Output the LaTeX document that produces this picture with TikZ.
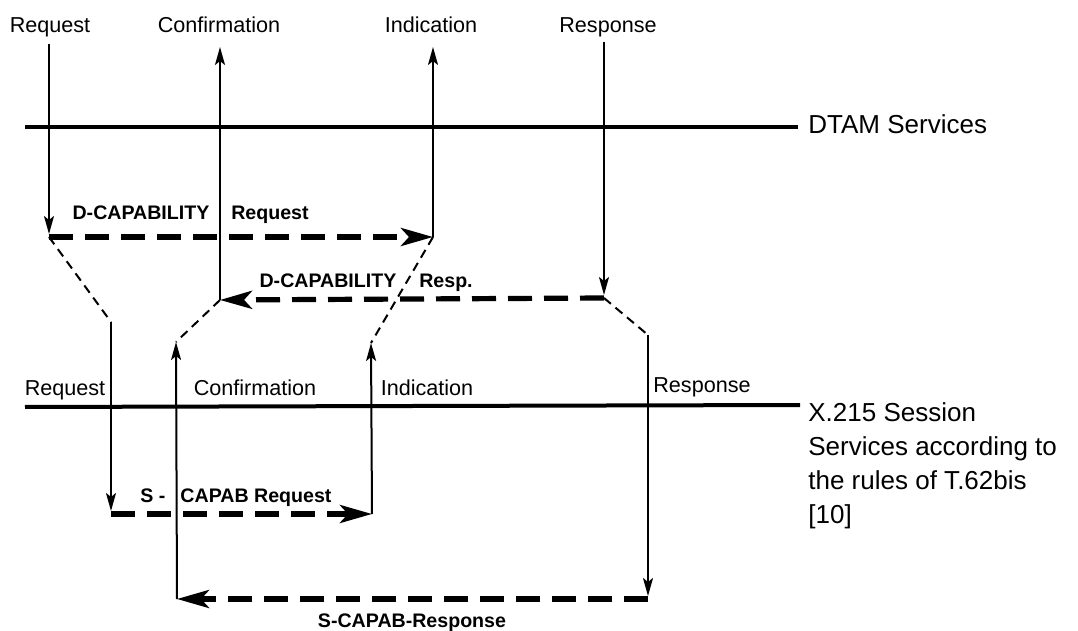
\documentclass[tikz,border=0pt]{standalone}
\usepackage{fontspec}
\setmainfont{Liberation Sans}
\usetikzlibrary{arrows.meta}

\begin{document}
\begin{tikzpicture}[x=0.5pt,y=-0.5pt,
    lbl/.style={inner sep=0pt,anchor=base,font=\fontsize{10.8}{12}\selectfont},
    msg/.style={inner sep=0pt,anchor=base,font=\fontsize{9.8}{11}\selectfont\bfseries},
    side/.style={inner sep=0pt,align=left,font=\fontsize{13}{17}\selectfont},
    layer/.style={line width=2pt},
    prim/.style={line width=1pt,-{Stealth[length=9pt,width=5pt,inset=2pt]}},
    pdu/.style={line width=2.6pt,dash pattern=on 12pt off 6pt,
      -{Stealth[length=16pt,width=9pt,inset=4pt]}},
    map/.style={line width=1pt,dash pattern=on 4.5pt off 3pt}]

  \useasboundingbox (0,0) rectangle (1078,631);

  % DTAM layer
  \coordinate (dtamL) at (25,127);
  \coordinate (dtamR) at (798,127);
  \draw[layer] (dtamL) -- (dtamR);
  \node[side,anchor=west] (dtam) at (808,124) {DTAM Services};

  % Session layer
  \coordinate (sesL) at (25,407);
  \coordinate (sesR) at (800,405);
  \draw[layer] (sesL) -- (sesR);
  \node[side,anchor=north west] (ses) at (808,402)
    {X.215 Session\\Services according to\\the rules of T.62bis\\{[10]}};

  % DTAM primitives
  \node[lbl] (reqD) at (50,33) {Request};
  \node[lbl] (cnfD) at (219,33) {Confirmation};
  \node[lbl] (indD) at (431,33) {Indication};
  \node[lbl] (rspD) at (608,33) {Response};

  \coordinate (reqD0) at (49,44);
  \coordinate (reqD1) at (49,237);
  \coordinate (cnfD0) at (220,47);
  \coordinate (cnfD1) at (220,300);
  \coordinate (indD0) at (433,47);
  \coordinate (indD1) at (433,237);
  \coordinate (rspD0) at (604,42);
  \coordinate (rspD1) at (604,298);

  \draw[prim] (reqD0) -- ([yshift=1.5pt]reqD1);
  \draw[prim] (cnfD1) -- (cnfD0);
  \draw[prim] (indD1) -- (indD0);
  \draw[prim] (rspD0) -- ([yshift=1.5pt]rspD1);

  % D-CAPABILITY exchange
  \draw[pdu] (reqD1) -- (indD1);
  \draw[pdu] (rspD1) -- (cnfD1);
  \node[msg] (dreqA) at (141,220) {D-CAPABILITY};
  \node[msg] (dreqB) at (270,220) {Request};
  \node[msg] (drspA) at (328,287) {D-CAPABILITY};
  \node[msg] (drspB) at (446,287) {Resp.};

  % Session primitives
  \node[lbl] (reqS) at (65,395) {Request};
  \node[lbl] (cnfS) at (255,395) {Confirmation};
  \node[lbl] (indS) at (427,395) {Indication};
  \node[lbl] (rspS) at (702,393) {Response};

  \coordinate (reqS0) at (111,322);
  \coordinate (reqS1) at (111,514);
  \coordinate (cnfS0) at (176,342);
  \coordinate (cnfS1) at (177,599);
  \coordinate (indS0) at (371,343);
  \coordinate (indS1) at (372,514);
  \coordinate (rspS0) at (648,335);
  \coordinate (rspS1) at (648,599);

  % mapping DTAM -> Session
  \draw[map] (reqD1) -- (reqS0);
  \draw[map] (cnfD1) -- (cnfS0);
  \draw[map] (indD1) -- (indS0);
  \draw[map] (rspD1) -- (rspS0);

  \draw[prim] (reqS0) -- ([yshift=1.5pt]reqS1);
  \draw[prim] (cnfS1) -- (cnfS0);
  \draw[prim] (indS1) -- (indS0);
  \draw[prim] (rspS0) -- ([yshift=1.5pt]rspS1);

  % S-CAPAB exchange
  \draw[pdu] (reqS1) -- (indS1);
  \draw[pdu] (rspS1) -- (cnfS1);
  \node[msg] (sreqA) at (153,502) {S -};
  \node[msg] (sreqB) at (256,502) {CAPAB Request};
  \node[msg] (srsp) at (412,627) {S-CAPAB-Response};
\end{tikzpicture}
\end{document}
